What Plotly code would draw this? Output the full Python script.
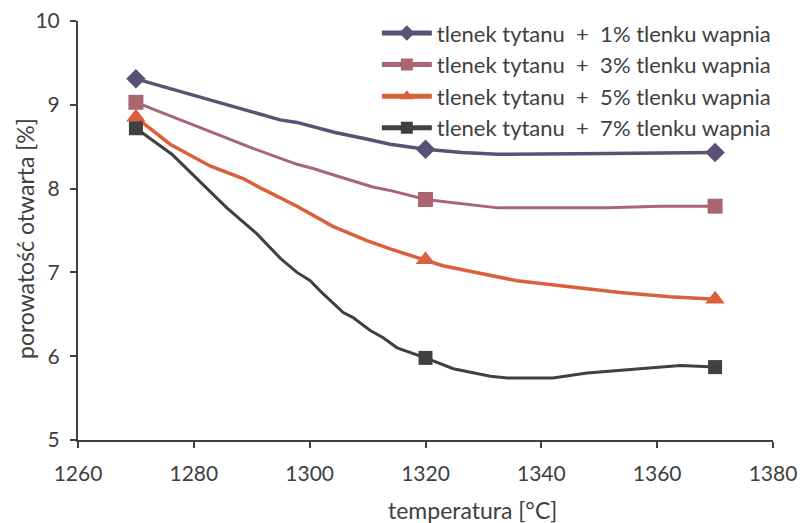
import plotly.graph_objects as go

# Measured points (temperature in °C, open porosity in %)
temps = [1270, 1320, 1370]
por_1 = [9.31, 8.47, 8.43]
por_3 = [9.03, 7.87, 7.79]
por_5 = [8.85, 7.15, 6.68]
por_7 = [8.72, 5.98, 5.87]

# Hand-drawn trend curves between the measured points
curve_1_x = [1273.0, 1276.2, 1279.9, 1285.7, 1290.2, 1294.9, 1297.8, 1300.6, 1304.4, 1309.2, 1313.9,
             1326.3, 1332.5, 1345.0, 1351.4]
curve_1_y = [9.25, 9.19, 9.12, 9.00, 8.91, 8.82, 8.79, 8.74, 8.67, 8.60, 8.53,
             8.43, 8.41, 8.41, 8.42]

curve_3_x = [1275.9, 1282.8, 1290.2, 1297.8, 1300.6, 1304.7, 1307.5, 1310.9, 1314.4,
             1332.5, 1351.4, 1360.5]
curve_3_y = [8.87, 8.68, 8.48, 8.29, 8.24, 8.15, 8.09, 8.02, 7.97,
             7.77, 7.77, 7.79]

curve_5_x = [1275.9, 1282.8, 1288.5, 1292.0, 1297.8, 1304.0, 1309.9, 1313.9,
             1323.0, 1335.8, 1343.8, 1353.6, 1362.2]
curve_5_y = [8.53, 8.27, 8.12, 7.99, 7.79, 7.55, 7.38, 7.28,
             7.08, 6.90, 6.84, 6.76, 6.71]

curve_7_x = [1276.2, 1282.3, 1285.7, 1290.9, 1294.9, 1297.8, 1300.1, 1301.8, 1305.8, 1307.5,
             1310.4, 1312.7, 1315.1, 1324.8, 1331.2, 1334.1, 1342.0, 1347.9, 1364.0]
curve_7_y = [8.41, 8.00, 7.77, 7.46, 7.17, 7.00, 6.90, 6.78, 6.52, 6.46,
             6.31, 6.22, 6.10, 5.85, 5.76, 5.74, 5.74, 5.80, 5.89]

series = [
    ("tlenek tytanu  +  1% tlenku wapnia", por_1, curve_1_x, curve_1_y, "#5b5075", "diamond", 15, 3.5),
    ("tlenek tytanu  +  3% tlenku wapnia", por_3, curve_3_x, curve_3_y, "#a96572", "square", 15, 3),
    ("tlenek tytanu  +  5% tlenku wapnia", por_5, curve_5_x, curve_5_y, "#db5f3c", "triangle-up", 17, 3.5),
    ("tlenek tytanu  +  7% tlenku wapnia", por_7, curve_7_x, curve_7_y, "#404040", "square", 14, 3),
]

fig = go.Figure()
for name, meas, cx, cy, color, symbol, msize, lw in series:
    pts = sorted(list(zip(temps, meas)) + list(zip(cx, cy)))
    xs = [p[0] for p in pts]
    ys = [p[1] for p in pts]
    sizes = [msize if x in temps else 0 for x in xs]
    fig.add_trace(go.Scatter(
        x=xs, y=ys, name=name, mode="lines+markers",
        line=dict(color=color, width=lw),
        marker=dict(color=color, symbol=symbol, size=sizes, opacity=1, line=dict(width=0)),
    ))

font_family = "Lato, 'Open Sans', sans-serif"
text_color = "#404040"

fig.update_layout(
    width=806, height=523,
    margin=dict(l=78, r=33, t=19, b=83),
    paper_bgcolor="white", plot_bgcolor="white",
    font=dict(family=font_family, size=22, color=text_color),
    showlegend=True,
    legend=dict(
        x=0.43, y=1.021, xanchor="left", yanchor="top",
        bgcolor="rgba(0,0,0,0)", font=dict(size=22, color=text_color),
        itemsizing="constant", itemwidth=50, tracegroupgap=0,
    ),
    xaxis=dict(
        range=[1260, 1380], dtick=20, tick0=1260, automargin=False,
        showgrid=False, zeroline=False,
        showline=True, linecolor=text_color, linewidth=2,
        ticks="outside", ticklen=6, tickwidth=2, tickcolor=text_color,
        tickfont=dict(size=21), ticklabelstandoff=8,
    ),
    yaxis=dict(
        range=[5, 10], dtick=1, automargin=False,
        showgrid=False, zeroline=False,
        showline=True, linecolor=text_color, linewidth=2,
        ticks="outside", ticklen=6, tickwidth=2, tickcolor=text_color,
        tickfont=dict(size=21), ticklabelstandoff=6,
    ),
    annotations=[
        dict(text="temperatura [°C]", xref="paper", yref="paper", x=0.568, y=-0.166,
             xanchor="center", yanchor="middle", showarrow=False, font=dict(size=23)),
        dict(text="porowatość otwarta [%]", xref="paper", yref="paper", x=-0.0763, y=0.482,
             xanchor="center", yanchor="middle", textangle=-90, showarrow=False, font=dict(size=23)),
    ],
)

fig.write_html("out.html")
